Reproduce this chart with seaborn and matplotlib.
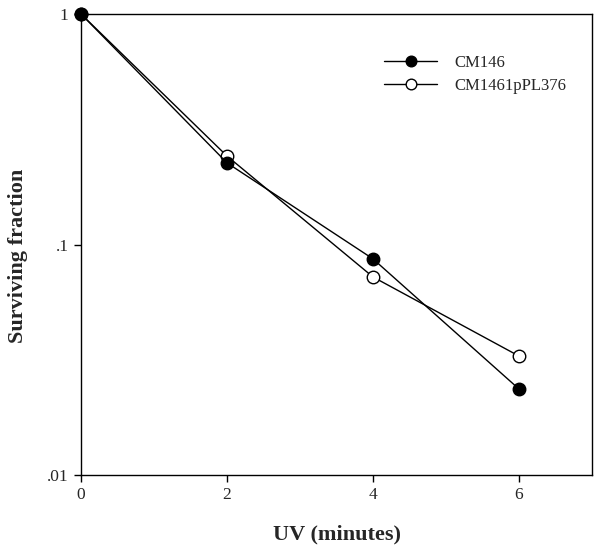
import numpy as np
import pandas as pd
import matplotlib
matplotlib.use("Agg")
import matplotlib.pyplot as plt
import seaborn as sns

# datos
uv_min = [0, 2, 4, 6]
cm146 = [1.0, 0.226, 0.0866, 0.0236]
cm1461ppl376 = [1.0, 0.242, 0.0723, 0.0328]

sns.set_style("white")
plt.rcParams['font.family'] = ['Liberation Serif', 'DejaVu Serif']

fig = plt.figure(figsize=(6.02, 5.5), dpi=100)
ax = fig.add_axes([0.1346, 0.1364, 0.8488, 0.8381])

df1 = pd.DataFrame({'UV': uv_min, 'frac': cm146})
df2 = pd.DataFrame({'UV': uv_min, 'frac': cm1461ppl376})

sns.lineplot(data=df2, x='UV', y='frac', ax=ax, color='black', lw=1.0,
             marker='o', markersize=9, markerfacecolor='white',
             markeredgecolor='black', markeredgewidth=1.0, label='CM1461pPL376',
             clip_on=False)
sns.lineplot(data=df1, x='UV', y='frac', ax=ax, color='black', lw=1.0,
             marker='o', markersize=9, markerfacecolor='black',
             markeredgecolor='black', markeredgewidth=1.0, label='CM146',
             clip_on=False)

ax.set_yscale('log')
ax.set_ylim(0.01, 1)
ax.set_xlim(0, 7)
ax.set_xticks([0, 2, 4, 6])
ax.set_xticklabels(['0', '2', '4', '6'])
ax.set_yticks([0.01, 0.1, 1])
ax.set_yticklabels(['.01', '.1', '1'])
ax.yaxis.set_minor_locator(matplotlib.ticker.NullLocator())
ax.tick_params(axis='both', which='major', direction='out', length=5, width=1,
               labelsize=12.5, color='black', left=True, bottom=True, pad=4)

for s in ax.spines.values():
    s.set_color('black')
    s.set_linewidth(1.0)

ax.set_xlabel('')
ax.set_ylabel('')
fig.text(337 / 602, 1 - 534 / 550, 'UV (minutes)', fontsize=16, fontweight='bold',
         ha='center', va='center')
fig.text(18 / 602, 1 - 256 / 550, 'Surviving fraction', fontsize=16, fontweight='bold',
         ha='center', va='center', rotation=90)

handles, labels = ax.get_legend_handles_labels()
leg = ax.legend(handles[::-1], labels[::-1], loc='upper left',
                bbox_to_anchor=(0.593, 0.912), frameon=False,
                fontsize=12, handlelength=3.2, handletextpad=1.0, labelspacing=0.42,
                borderpad=0, borderaxespad=0, markerscale=0.85)

fig.savefig('out.png', dpi=100)
